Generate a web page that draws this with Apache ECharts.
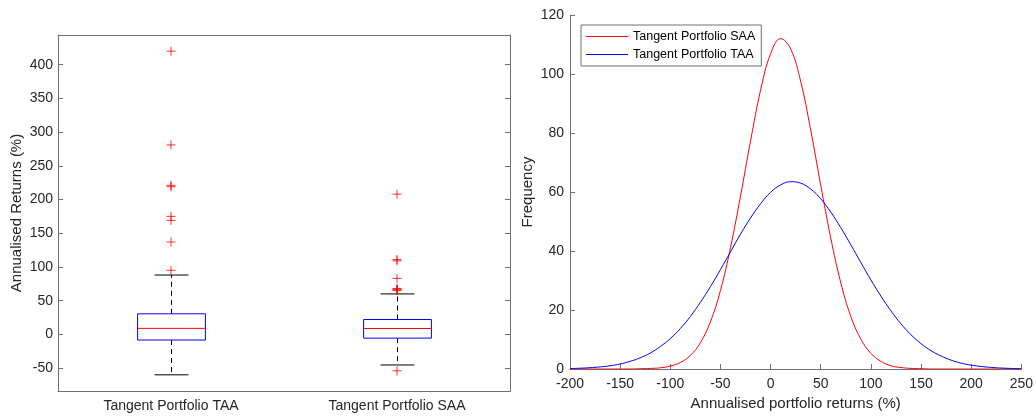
<!DOCTYPE html>
<html>
<head>
<meta charset="utf-8">
<script src="https://cdn.jsdelivr.net/npm/echarts@6/dist/echarts.min.js"></script>
<style>
  html, body { margin: 0; padding: 0; background: #fff; }
  #main { width: 1036px; height: 416px; }
</style>
</head>
<body>
<div id="main"></div>
<script>
// box plot data: [lower whisker, Q1, median, Q3, upper whisker]
var boxCategories = ['Tangent Portfolio TAA', 'Tangent Portfolio SAA'];
var boxTAA = [-60, -8.4, 8.9, 30.5, 88];
var boxSAA = [-45.4, -5.6, 8.7, 22, 60];
var outliersTAA = [420, 281, 221, 219, 175, 169, 137, 95];
var outliersSAA = [208, 111, 109, 83, 68, 67, 66, 65, -54];

// fitted distributions (right panel)
var returnsX = [-200, -190, -180, -170, -160, -150, -140, -130, -120, -110,
  -100, -90, -80, -70, -60, -50, -40, -30, -20, -10,
  0, 10, 20, 30, 40, 50, 60, 70, 80, 90,
  100, 110, 120, 130, 140, 150, 160, 170, 180, 190,
  200, 210, 220, 230, 240, 250];
var freqSAA = [0, 0, 0, 0, 0, 0, 0, 0.1, 0.2, 0.4,
  1.0, 2.2, 4.6, 8.9, 16.0, 26.6, 41.1, 58.6, 77.3, 94.5,
  106.9, 112.0, 108.5, 97.5, 81.0, 62.3, 44.4, 29.2, 17.8, 10.1,
  5.3, 2.6, 1.1, 0.5, 0.2, 0.1, 0, 0, 0, 0,
  0, 0, 0, 0, 0, 0];
var freqTAA = [0.15, 0.26, 0.44, 0.71, 1.1, 1.7, 2.6, 3.8, 5.4, 7.6,
  10.3, 13.7, 17.8, 22.6, 27.9, 33.7, 39.7, 45.7, 51.2, 56.0,
  59.9, 62.4, 63.5, 63.0, 61.0, 57.7, 53.2, 47.9, 42.1, 36.1,
  30.2, 24.7, 19.7, 15.3, 11.6, 8.6, 6.2, 4.4, 3.0, 2.0,
  1.3, 0.85, 0.53, 0.32, 0.19, 0.11];

var boxYTicks = [-50, 0, 50, 100, 150, 200, 250, 300, 350, 400];

var textColor = '#262626';
var lineColor = '#707070';
var font = 'Liberation Sans, Arial, Helvetica, sans-serif';

var myChart = echarts.init(document.getElementById('main'), null, { renderer: 'canvas' });

var lineData = function (ys) {
  return returnsX.map(function (x, i) { return [x, ys[i]]; });
};

// 画箱线图（MATLAB 样式）
var renderBox = function (params, api) {
  var c = api.value(0);
  var pLo = api.coord([c, api.value(1)]);
  var pQ1 = api.coord([c, api.value(2)]);
  var pMed = api.coord([c, api.value(3)]);
  var pQ3 = api.coord([c, api.value(4)]);
  var pHi = api.coord([c, api.value(5)]);
  var boxW = api.size([1, 0])[0] * 0.3;
  var capW = boxW / 2;
  var cx = Math.round(pMed[0]) + 0.5;
  var dash = { stroke: '#000', lineWidth: 1, lineDash: [5, 4] };
  var solid = { stroke: '#000', lineWidth: 1 };
  return {
    type: 'group',
    children: [
      { type: 'line', shape: { x1: cx, y1: pQ3[1], x2: cx, y2: pHi[1] }, style: dash },
      { type: 'line', shape: { x1: cx, y1: pQ1[1], x2: cx, y2: pLo[1] }, style: dash },
      { type: 'line', shape: { x1: cx - capW / 2, y1: pHi[1], x2: cx + capW / 2, y2: pHi[1] }, style: solid },
      { type: 'line', shape: { x1: cx - capW / 2, y1: pLo[1], x2: cx + capW / 2, y2: pLo[1] }, style: solid },
      { type: 'rect', shape: { x: cx - boxW / 2, y: pQ3[1], width: boxW, height: pQ1[1] - pQ3[1] },
        style: { fill: '#fff', stroke: '#0000ff', lineWidth: 1 } },
      { type: 'line', shape: { x1: cx - boxW / 2, y1: pMed[1], x2: cx + boxW / 2, y2: pMed[1] },
        style: { stroke: '#ff0000', lineWidth: 1 } }
    ]
  };
};

var plusSymbol = 'path://M0,5L10,5M5,0L5,10';

var hideOdd = function (v) {
  return boxYTicks.indexOf(v) >= 0 ? String(v) : '';
};

var option = {
  animation: false,
  backgroundColor: '#fff',
  textStyle: { fontFamily: font },
  grid: [
    { left: 58, right: 526, top: 35, bottom: 25 },
    { left: 570, right: 13, top: 15, bottom: 45 }
  ],
  legend: {
    orient: 'vertical',
    left: 581,
    top: 25,
    padding: [5, 6, 5, 5],
    itemGap: 5,
    itemWidth: 42,
    itemHeight: 1,
    icon: 'rect',
    backgroundColor: '#fff',
    borderColor: lineColor,
    borderWidth: 1,
    borderRadius: 0,
    textStyle: { fontSize: 12.5, color: '#000', fontFamily: font },
    data: ['Tangent Portfolio SAA', 'Tangent Portfolio TAA']
  },
  xAxis: [
    {
      type: 'category', gridIndex: 0, data: boxCategories,
      axisLine: { onZero: false, lineStyle: { color: lineColor } },
      axisTick: { inside: true, alignWithLabel: true, length: 5, lineStyle: { color: lineColor } },
      axisLabel: { color: textColor, fontSize: 14, margin: 8 }
    },
    {
      type: 'category', gridIndex: 0, position: 'top', data: boxCategories,
      axisLine: { onZero: false, lineStyle: { color: lineColor } },
      axisTick: { inside: true, alignWithLabel: true, length: 5, lineStyle: { color: lineColor } },
      axisLabel: { show: false }
    },
    {
      type: 'value', gridIndex: 1, min: -200, max: 250, interval: 50,
      name: 'Annualised portfolio returns (%)', nameLocation: 'middle', nameGap: 27,
      nameTextStyle: { color: textColor, fontSize: 15 },
      axisLine: { onZero: false, lineStyle: { color: lineColor } },
      axisTick: { inside: true, length: 5, lineStyle: { color: lineColor } },
      axisLabel: { color: textColor, fontSize: 14, margin: 8 },
      splitLine: { show: false }
    }
  ],
  yAxis: [
    {
      type: 'value', gridIndex: 0, min: -84, max: 444, splitNumber: 10,
      name: 'Annualised Returns (%)', nameLocation: 'middle', nameGap: 34,
      nameTextStyle: { color: textColor, fontSize: 15 },
      axisLine: { show: true, onZero: false, lineStyle: { color: lineColor } },
      axisTick: { show: true, inside: true, length: 5, lineStyle: { color: lineColor } },
      axisLabel: { color: textColor, fontSize: 14, margin: 5, formatter: hideOdd },
      splitLine: { show: false }
    },
    {
      type: 'value', gridIndex: 0, position: 'right', min: -84, max: 444, splitNumber: 10,
      axisLine: { show: true, onZero: false, lineStyle: { color: lineColor } },
      axisTick: { show: true, inside: true, length: 5, lineStyle: { color: lineColor } },
      axisLabel: { show: false },
      splitLine: { show: false }
    },
    {
      type: 'value', gridIndex: 1, min: 0, max: 120, interval: 20,
      name: 'Frequency', nameLocation: 'middle', nameGap: 35,
      nameTextStyle: { color: textColor, fontSize: 15 },
      axisLine: { show: true, onZero: false, lineStyle: { color: lineColor } },
      axisTick: { show: true, inside: true, length: 5, lineStyle: { color: lineColor } },
      axisLabel: { color: textColor, fontSize: 14, margin: 6 },
      splitLine: { show: false }
    }
  ],
  series: [
    {
      type: 'custom', xAxisIndex: 0, yAxisIndex: 0,
      renderItem: renderBox,
      encode: { x: 0, y: [1, 2, 3, 4, 5] },
      data: [[0].concat(boxTAA), [1].concat(boxSAA)],
      z: 2
    },
    {
      type: 'scatter', xAxisIndex: 0, yAxisIndex: 0,
      symbol: plusSymbol, symbolSize: 9,
      itemStyle: { color: 'rgba(0,0,0,0)', borderColor: '#ff0000', borderWidth: 1 },
      data: outliersTAA.map(function (v) { return [0, v]; }),
      z: 3
    },
    {
      type: 'scatter', xAxisIndex: 0, yAxisIndex: 0,
      symbol: plusSymbol, symbolSize: 9,
      itemStyle: { color: 'rgba(0,0,0,0)', borderColor: '#ff0000', borderWidth: 1 },
      data: outliersSAA.map(function (v) { return [1, v]; }),
      z: 3
    },
    {
      name: 'Tangent Portfolio SAA', type: 'line', xAxisIndex: 2, yAxisIndex: 2,
      data: lineData(freqSAA), smooth: 0.4, symbol: 'none',
      lineStyle: { color: '#ff0000', width: 1 }, itemStyle: { color: '#ff0000' }
    },
    {
      name: 'Tangent Portfolio TAA', type: 'line', xAxisIndex: 2, yAxisIndex: 2,
      data: lineData(freqTAA), smooth: 0.4, symbol: 'none',
      lineStyle: { color: '#0000ff', width: 1 }, itemStyle: { color: '#0000ff' }
    }
  ]
};

myChart.setOption(option);
</script>
</body>
</html>
